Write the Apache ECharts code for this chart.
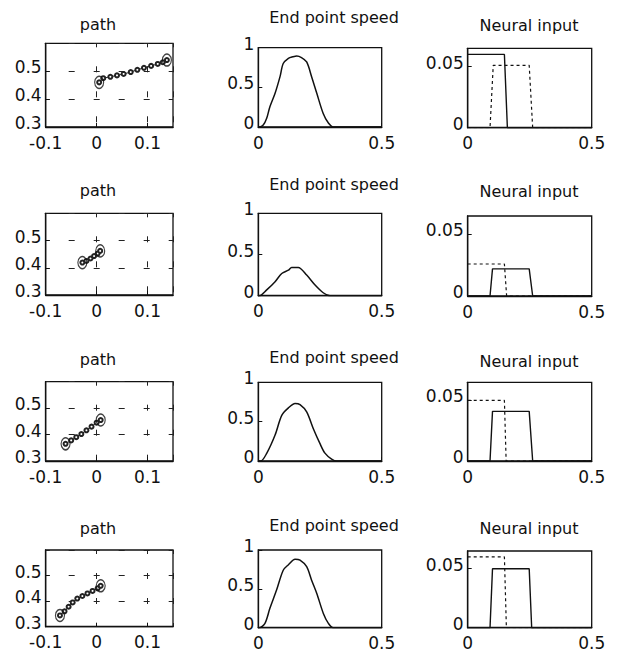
<!DOCTYPE html>
<html><head><meta charset="utf-8">
<script src="https://cdn.jsdelivr.net/npm/echarts@6/dist/echarts.min.js"></script>
<style>html,body{margin:0;padding:0;background:#fff}#c{width:623px;height:656px}</style>
</head><body><div id="c"></div>
<script>
// ---- titles & ticks ----
const panelTitles = ['path', 'End point speed', 'Neural input'];
const pathXTicks = [-0.1, 0, 0.1];
const pathYTicks = [0.3, 0.4, 0.5];
const speedXTicks = [0, 0.5];
const speedYTicks = [0, 0.5, 1];
const neuralXTicks = [0, 0.5];
const neuralYTicks = [0, 0.05];

// ---- path trails [x, y] (first = start circle, last = end circle) ----
const pathRow1 = [[0.005,0.46],[0.013,0.475],[0.027,0.48],[0.04,0.485],[0.053,0.49],[0.067,0.497],[0.08,0.505],[0.093,0.512],[0.107,0.519],[0.12,0.526],[0.13,0.532],[0.138,0.54]];
const pathRow2 = [[-0.028,0.419],[-0.02,0.425],[-0.012,0.434],[-0.005,0.443],[0.002,0.452],[0.007,0.462]];
const pathRow3 = [[-0.061,0.365],[-0.05,0.378],[-0.04,0.39],[-0.03,0.402],[-0.02,0.416],[-0.01,0.43],[0,0.445],[0.008,0.455]];
const pathRow4 = [[-0.072,0.344],[-0.063,0.36],[-0.055,0.378],[-0.047,0.395],[-0.038,0.41],[-0.028,0.42],[-0.018,0.43],[-0.008,0.44],[0.002,0.45],[0.008,0.46]];

// ---- end point speed ----
const speedTime1 = [0,0.004,0.02,0.034,0.047,0.068,0.088,0.101,0.122,0.14,0.156,0.175,0.196,0.216,0.237,0.263,0.284,0.304,0.5];
const speedValue1 = [0,0,0.025,0.11,0.256,0.425,0.635,0.8,0.866,0.885,0.895,0.875,0.82,0.635,0.425,0.17,0.05,0,0];
const speedTime2 = [0,0.005,0.034,0.068,0.095,0.122,0.135,0.162,0.196,0.23,0.263,0.29,0.5];
const speedValue2 = [0,0,0.07,0.17,0.27,0.31,0.343,0.343,0.25,0.13,0.036,0,0];
const speedTime3 = [0,0.01,0.034,0.068,0.095,0.122,0.149,0.169,0.196,0.223,0.25,0.27,0.297,0.318,0.5];
const speedValue3 = [0,0,0.097,0.33,0.58,0.675,0.73,0.717,0.624,0.41,0.22,0.1,0.025,0,0];
const speedTime4 = [0,0.005,0.027,0.047,0.074,0.101,0.122,0.149,0.169,0.196,0.216,0.237,0.264,0.284,0.304,0.5];
const speedValue4 = [0,0,0.056,0.25,0.485,0.74,0.81,0.88,0.87,0.785,0.61,0.44,0.18,0.056,0,0];

// ---- neural input [t, value] ----
const neuralSolid1 = [[0,0.06],[0.148,0.06],[0.16,0],[0.5,0]];
const neuralDashed1 = [[0,0],[0.09,0],[0.103,0.051],[0.248,0.051],[0.262,0],[0.5,0]];
const neuralSolid2 = [[0,0],[0.09,0],[0.1,0.022],[0.248,0.022],[0.262,0],[0.5,0]];
const neuralDashed2 = [[0,0.026],[0.148,0.026],[0.157,0],[0.5,0]];
const neuralSolid3 = [[0,0],[0.09,0],[0.1,0.041],[0.248,0.041],[0.262,0],[0.5,0]];
const neuralDashed3 = [[0,0.05],[0.148,0.05],[0.155,0],[0.5,0]];
const neuralSolid4 = [[0,0],[0.09,0],[0.1,0.05],[0.248,0.05],[0.258,0],[0.5,0]];
const neuralDashed4 = [[0,0.06],[0.148,0.06],[0.156,0],[0.5,0]];

// ---- layout ----
const FONT = 'DejaVu Sans';
const INK = '#111';
const colLeft = [45.7, 258.3, 467.7];
const colWidth = [127.3, 123.4, 124];
const titleCx = [98, 334, 529];
const pathBox = [[43.3,127],[213.3,295],[381.7,461],[550,626.7]];
const speedBox = [[47.7,127],[213.3,295.7],[382.3,461],[550,627.7]];
const neuralBox = [[48.3,127.7],[216,296],[382.3,461],[551,627.7]];
const pathTitleBase = [29,195,364,533];
const speedTitleBase = [22.7,189,362,530];
const neuralTitleBase = [30.7,196.7,366,533];

const pathRows = [pathRow1, pathRow2, pathRow3, pathRow4];
const speedRows = [[speedTime1,speedValue1],[speedTime2,speedValue2],[speedTime3,speedValue3],[speedTime4,speedValue4]];
const neuralRows = [[neuralSolid1,neuralDashed1],[neuralSolid2,neuralDashed2],[neuralSolid3,neuralDashed3],[neuralSolid4,neuralDashed4]];

const grids = [], xAxes = [], yAxes = [], series = [], titles = [];

function fmt(ticks) {
  return function (v) {
    for (const t of ticks) if (Math.abs(v - t) < 1e-9) return String(t);
    return '';
  };
}
function axis(min, max, interval, ticks, gi, isX, dashed) {
  const label = { show: true, color: INK, fontFamily: FONT, fontSize: 17, margin: isX ? 7 : 4,
    formatter: fmt(ticks), showMaxLabel: ticks.some(t => Math.abs(t - max) < 1e-9), showMinLabel: true };
  if (!isX) { label.verticalAlign = 'bottom'; label.lineHeight = 8; }
  return {
    type: 'value', gridIndex: gi, min: min, max: max, interval: interval,
    axisLine: { show: true, onZero: false, lineStyle: { color: INK, width: 1.3 } },
    axisTick: { show: true, inside: true, length: 4, lineStyle: { color: INK, width: 1 } },
    axisLabel: label,
    splitLine: { show: !!dashed, lineStyle: { color: '#222', width: 1, type: [6, 19], dashOffset: 2.4 } }
  };
}
function addTitle(text, cx, base) {
  titles.push({ text: text, left: cx, top: base - 12.8, textAlign: 'center', padding: 0,
    textStyle: { fontFamily: FONT, fontSize: 16, fontWeight: 'normal', color: INK } });
}

for (let r = 0; r < 4; r++) {
  // path panel
  let gi = grids.length;
  grids.push({ left: colLeft[0], width: colWidth[0], top: pathBox[r][0], height: pathBox[r][1] - pathBox[r][0],
    show: true, borderColor: INK, borderWidth: 1.3, containLabel: false });
  xAxes.push(axis(-0.1, 0.15, 0.1, pathXTicks, gi, true, true));
  yAxes.push(axis(0.3, 0.6, 0.1, pathYTicks, gi, false, true));
  const trail = pathRows[r];
  series.push({ type: 'line', xAxisIndex: gi, yAxisIndex: gi, data: trail, symbol: 'emptyCircle', symbolSize: 4,
    lineStyle: { color: '#222', width: 1 }, itemStyle: { color: '#222', borderWidth: 0.8 }, z: 3 });
  series.push({ type: 'scatter', xAxisIndex: gi, yAxisIndex: gi, data: [trail[0], trail[trail.length - 1]],
    symbol: 'circle', symbolSize: [9, 12], itemStyle: { color: 'rgba(0,0,0,0)', borderColor: INK, borderWidth: 1.3 }, z: 4 });
  addTitle(panelTitles[0], titleCx[0], pathTitleBase[r]);

  // speed panel
  gi = grids.length;
  grids.push({ left: colLeft[1], width: colWidth[1], top: speedBox[r][0], height: speedBox[r][1] - speedBox[r][0],
    show: true, borderColor: INK, borderWidth: 1.3 });
  xAxes.push(axis(0, 0.5, 0.5, speedXTicks, gi, true, false));
  yAxes.push(axis(0, 1, 0.5, speedYTicks, gi, false, false));
  const [st, sv] = speedRows[r];
  series.push({ type: 'line', xAxisIndex: gi, yAxisIndex: gi, data: st.map((t, i) => [t, sv[i]]),
    symbol: 'none', smooth: 0.3, lineStyle: { color: INK, width: 1.5 } });
  addTitle(panelTitles[1], titleCx[1], speedTitleBase[r]);

  // neural panel
  gi = grids.length;
  grids.push({ left: colLeft[2], width: colWidth[2], top: neuralBox[r][0], height: neuralBox[r][1] - neuralBox[r][0],
    show: true, borderColor: INK, borderWidth: 1.3 });
  xAxes.push(axis(0, 0.5, 0.5, neuralXTicks, gi, true, false));
  yAxes.push(axis(0, 0.065, 0.05, neuralYTicks, gi, false, false));
  const [sol, das] = neuralRows[r];
  series.push({ type: 'line', xAxisIndex: gi, yAxisIndex: gi, data: das, symbol: 'none',
    lineStyle: { color: INK, width: 1.2, type: [3, 3] }, z: 2 });
  series.push({ type: 'line', xAxisIndex: gi, yAxisIndex: gi, data: sol, symbol: 'none',
    lineStyle: { color: INK, width: 1.4 }, z: 3 });
  addTitle(panelTitles[2], titleCx[2], neuralTitleBase[r]);
}

const chart = echarts.init(document.getElementById('c'), null, { renderer: 'svg' });
chart.setOption({
  animation: false,
  backgroundColor: '#fff',
  title: titles,
  grid: grids,
  xAxis: xAxes,
  yAxis: yAxes,
  series: series
});
</script></body></html>
